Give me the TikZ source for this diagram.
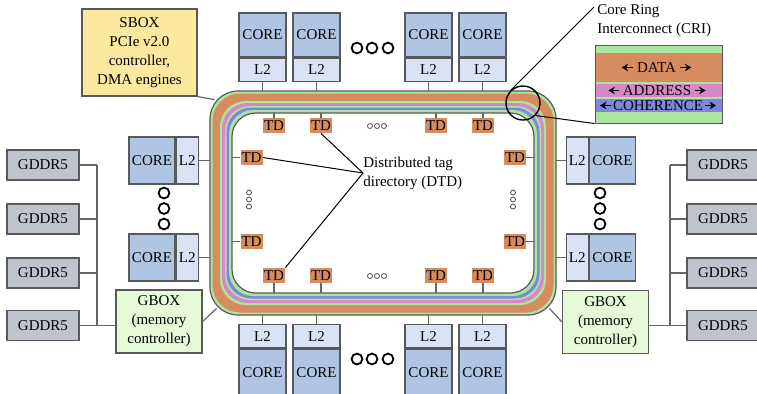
\documentclass[tikz,border=0pt]{standalone}
\usepackage{fontspec}
\setmainfont{Liberation Serif}
\usetikzlibrary{arrows.meta,positioning,calc}
\usepackage{xcolor}
\definecolor{CoreBlue}{RGB}{176,196,228}
\definecolor{LTwoBlue}{RGB}{217,227,243}
\definecolor{GddrGray}{RGB}{190,195,204}
\definecolor{GboxGreen}{RGB}{230,250,215}
\definecolor{SboxYellow}{RGB}{253,232,160}
\definecolor{RingOrange}{RGB}{214,140,95}
\definecolor{RingGreen}{RGB}{170,230,160}
\definecolor{RingPink}{RGB}{215,135,200}
\definecolor{RingBlue}{RGB}{125,135,220}
\tikzset{
  plain/.style={inner sep=0pt, align=center, font=\fontsize{7.5}{9.5}\selectfont},
  base/.style={plain, draw=black!65, line width=0.6pt},
  corebox/.style={base, fill=CoreBlue, minimum width=23.5pt, minimum height=22pt},
  ltwobox/.style={base, fill=LTwoBlue, minimum width=23.5pt, minimum height=11.5pt},
  sidecore/.style={base, fill=CoreBlue, minimum width=23pt, minimum height=23.5pt},
  sideltwo/.style={base, fill=LTwoBlue, minimum width=11pt, minimum height=23.5pt},
  tdbox/.style={plain, fill=RingOrange, minimum width=11pt, minimum height=7.5pt},
  gddrbox/.style={base, fill=GddrGray, minimum width=36pt, minimum height=15pt},
  gboxbox/.style={base, fill=GboxGreen, minimum width=43pt, minimum height=31.5pt},
  wire/.style={draw=black!60, line width=0.6pt},
  callout/.style={draw=black, line width=0.5pt},
  bandarrow/.style={-{Stealth[length=3.2pt,width=3.8pt]}, line width=0.7pt}
}

\begin{document}
\begin{tikzpicture}[x=0.5pt,y=-0.5pt]
  \useasboundingbox (0,0) rectangle (757,393);

  % core ring interconnect
  \foreach \d/\c in {0/RingGreen,2.5/RingOrange,10/RingGreen,12/RingPink,
      15/RingGreen,16.5/RingBlue,19/RingGreen,22/white}{
    \pgfmathsetmacro\rr{14-0.1*\d}
    \fill[\c, rounded corners=\rr pt] ({210+\d},{91+\d}) rectangle ({556-\d},{315-\d});
  }
  \draw[black!65, line width=0.6pt, rounded corners=14pt] (210,91) rectangle (556,315);
  \draw[black!65, line width=0.6pt, rounded corners=11.8pt] (232,113) rectangle (534,293);
  \node[inner sep=0pt, minimum width=173pt, minimum height=112pt] (ringout) at (383,203) {};
  \node[inner sep=0pt, minimum width=151pt, minimum height=90pt] (ringin) at (383,203) {};
  \coordinate (ringnw) at ($(ringout.north west)+(5,9)$);
  \coordinate (ringsw) at ($(ringout.south west)+(7,-7)$);
  \coordinate (ringse) at ($(ringout.south east)+(-7,-7)$);

  % cores above and below the ring
  \foreach \i/\x in {1/262.5,2/316.5,3/428.5,4/482.5}{
    \node[corebox] (tc\i) at (\x,35) {CORE};
    \node[ltwobox, below=0pt of tc\i] (tl\i) {L2};
    \node[corebox, minimum height=24pt] (bc\i) at (\x,373) {CORE};
    \node[ltwobox, above=0pt of bc\i] (bl\i) {L2};
    \draw[wire] (tl\i.south) -- (tl\i.south |- ringout.north);
    \draw[wire] (bl\i.north) -- (bl\i.north |- ringout.south);
  }

  % cores left and right of the ring
  \foreach \i/\y in {1/160.5,2/257.5}{
    \node[sidecore] (lc\i) at (152,\y) {CORE};
    \node[sideltwo, right=0pt of lc\i] (ll\i) {L2};
    \node[sidecore] (rc\i) at (612.5,\y) {CORE};
    \node[sideltwo, left=0pt of rc\i] (rl\i) {L2};
    \draw[wire] (ll\i.east) -- (ll\i.east -| ringout.west);
    \draw[wire] (rl\i.west) -- (rl\i.west -| ringout.east);
  }

  % tag directories
  \foreach \i/\x in {1/274,2/321,3/436,4/483}{
    \node[tdbox] (ttd\i) at (\x,125.5) {TD};
    \node[tdbox] (btd\i) at (\x,275.5) {TD};
    \draw[wire] (ttd\i.north) -- (ttd\i.north |- ringin.north);
    \draw[wire] (btd\i.south) -- (btd\i.south |- ringin.south);
  }
  \foreach \i/\y in {1/157.5,2/241.5}{
    \node[tdbox] (ltd\i) at (251.5,\y) {TD};
    \node[tdbox] (rtd\i) at (515,\y) {TD};
    \draw[wire] (ltd\i.west) -- (ltd\i.west -| ringin.west);
    \draw[wire] (rtd\i.east) -- (rtd\i.east -| ringin.east);
  }

  % ellipsis dots
  \foreach \x in {357,372,388}{
    \draw[line width=0.9pt] (\x,48) circle[radius=2.7pt];
    \draw[line width=0.9pt] (\x,359) circle[radius=2.7pt];
  }
  \foreach \y in {193,208.5,224}{
    \draw[line width=0.9pt] (164,\y) circle[radius=2.7pt];
    \draw[line width=0.9pt] (600,\y) circle[radius=2.7pt];
  }
  \foreach \k in {-7,0,7}{
    \draw[black!70, line width=0.4pt] (377+\k,126) circle[radius=1.25pt];
    \draw[black!70, line width=0.4pt] (377+\k,276) circle[radius=1.25pt];
    \draw[black!70, line width=0.4pt] (249,199.5+\k) circle[radius=1.25pt];
    \draw[black!70, line width=0.4pt] (513,199.5+\k) circle[radius=1.25pt];
  }

  % SBOX and GBOXes
  \node[base, fill=SboxYellow, minimum width=57.5pt, minimum height=43.5pt]
    (sbox) at (139.5,52.5) {SBOX\\PCIe v2.0\\controller,\\DMA engines};
  \draw[wire] (sbox.south east) -- (ringnw);
  \node[gboxbox] (lgbox) at (159,321.5) {GBOX\\(memory\\controller)};
  \node[gboxbox] (rgbox) at (605.5,322) {GBOX\\(memory\\controller)};
  \draw[wire] (lgbox.east) -- (ringsw);
  \draw[wire] (rgbox.west) -- (ringse);

  % GDDR5 memories
  \coordinate (lbus) at (97,165);
  \coordinate (rbus) at (670,165);
  \foreach \i/\y in {1/165,2/219,3/273,4/325.5}{
    \node[gddrbox] (lg\i) at (43,\y) {GDDR5};
    \node[gddrbox] (rg\i) at (723,\y) {GDDR5};
    \draw[wire] (lg\i.east) -- (lg\i.east -| lbus);
    \draw[wire] (rg\i.west) -- (rg\i.west -| rbus);
  }
  \draw[wire] (lg1.east -| lbus) -- (lg4.east -| lbus);
  \draw[wire] (rg1.west -| rbus) -- (rg4.west -| rbus);
  \draw[wire] (lg4.east -| lbus) -- (lg4.east -| lgbox.west);
  \draw[wire] (rg4.west -| rbus) -- (rg4.west -| rgbox.east);

  % distributed tag directory label
  \node[plain, align=left, anchor=west] (dtd) at (363,173) {Distributed tag\\directory (DTD)};
  \draw[callout] (dtd.west) -- (ttd2.south);
  \draw[callout] (dtd.west) -- (ltd1.east);
  \draw[callout] (dtd.west) -- (btd1.north east);

  % CRI detail
  \fill[RingGreen] (595,45) rectangle (722,123);
  \fill[RingOrange] (595,53) rectangle (722,82);
  \fill[RingPink] (595,84) rectangle (722,97);
  \fill[RingBlue] (595,99) rectangle (722,112);
  \node[draw=black!65, line width=0.5pt, inner sep=0pt,
    minimum width=63.5pt, minimum height=39pt] (crib) at (658.5,84) {};
  \node[plain] (datat) at (656.5,67.5) {DATA};
  \node[plain] (addrt) at (657,90.5) {ADDRESS};
  \node[plain] (coht) at (658,105.5) {COHERENCE};
  \foreach \n/\g in {datat/2,addrt/1.5,coht/0.8}{
    \draw[bandarrow] ([xshift=-\g pt]\n.west) -- ++(-5.5pt,0);
    \draw[bandarrow] ([xshift=\g pt]\n.east) -- ++(5.5pt,0);
  }
  \node[plain, align=left, anchor=north west] (crilabel) at (597,4) {Core Ring\\Interconnect (CRI)};
  \node[circle, draw=black, line width=0.7pt, minimum size=17pt, inner sep=0pt] (crizoom) at (523,103) {};
  \draw[callout] (crizoom.north west) -- ([xshift=-1.5pt,yshift=-1.5pt]crilabel.north west);
  \draw[callout] (crizoom.south east) -- (crib.south west);
\end{tikzpicture}
\end{document}
